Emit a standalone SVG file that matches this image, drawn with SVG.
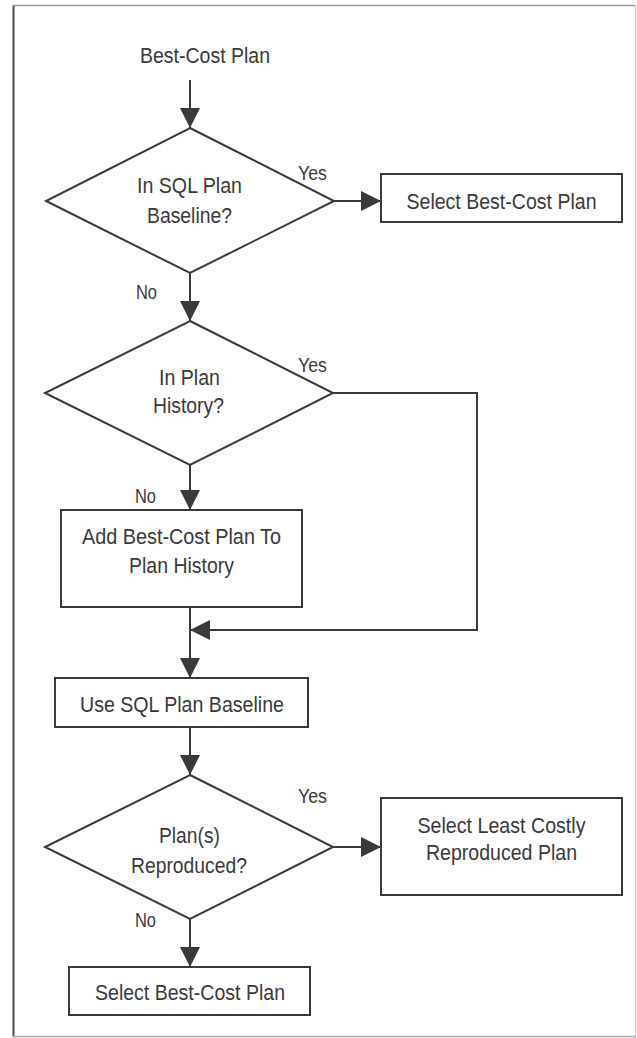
<svg xmlns="http://www.w3.org/2000/svg" width="637" height="1038" viewBox="0 0 637 1038">
  <style>
    .shape { fill: #ffffff; stroke: #3a3a3c; stroke-width: 2; }
    .wire { fill: none; stroke: #3a3a3c; stroke-width: 2; }
    .label { font-family: "Liberation Sans", Arial, sans-serif; font-size: 22.5px; fill: #3a3a3c; text-anchor: middle; }
    .tag { font-family: "Liberation Sans", Arial, sans-serif; font-size: 19.5px; fill: #3a3a3c; }
  </style>
  <defs>
    <marker id="arrow" viewBox="0 0 20 20" refX="20" refY="10" markerWidth="20" markerHeight="20" markerUnits="userSpaceOnUse" orient="auto">
      <path d="M0,0 L20,10 L0,20 Z" fill="#3a3a3c"/>
    </marker>
  </defs>

  <rect x="0" y="0" width="637" height="1038" fill="#ffffff"/>

  <!-- outer frame -->
  <g id="frame">
    <line x1="13.5" y1="5" x2="13.5" y2="1037" stroke="#4a4a4a" stroke-width="2"/>
    <line x1="13" y1="5.5" x2="636" y2="5.5" stroke="#9a9a9a" stroke-width="1.5"/>
    <line x1="635.5" y1="5" x2="635.5" y2="1037" stroke="#c8c8c8" stroke-width="1"/>
    <line x1="13" y1="1036.5" x2="636" y2="1036.5" stroke="#a8a8a8" stroke-width="1.5"/>
  </g>

  <!-- connectors -->
  <g id="connectors">
    <line class="wire" x1="190" y1="80" x2="190" y2="128" marker-end="url(#arrow)"/>
    <line class="wire" x1="334" y1="201" x2="381" y2="201" marker-end="url(#arrow)"/>
    <line class="wire" x1="190" y1="273" x2="190" y2="321" marker-end="url(#arrow)"/>
    <polyline class="wire" points="333,393 477,393 477,630 190,630" marker-end="url(#arrow)"/>
    <line class="wire" x1="190" y1="465" x2="190" y2="510" marker-end="url(#arrow)"/>
    <line class="wire" x1="190" y1="607" x2="190" y2="678" marker-end="url(#arrow)"/>
    <line class="wire" x1="190" y1="727" x2="190" y2="775" marker-end="url(#arrow)"/>
    <line class="wire" x1="333" y1="847" x2="381" y2="847" marker-end="url(#arrow)"/>
    <line class="wire" x1="190" y1="919" x2="190" y2="967" marker-end="url(#arrow)"/>
    <text class="tag" x="298" y="180" textLength="29" lengthAdjust="spacingAndGlyphs">Yes</text>
    <text class="tag" x="136" y="299" textLength="21" lengthAdjust="spacingAndGlyphs">No</text>
    <text class="tag" x="298" y="372" textLength="29" lengthAdjust="spacingAndGlyphs">Yes</text>
    <text class="tag" x="135" y="503" textLength="21" lengthAdjust="spacingAndGlyphs">No</text>
    <text class="tag" x="298" y="803" textLength="29" lengthAdjust="spacingAndGlyphs">Yes</text>
    <text class="tag" x="135" y="927" textLength="21" lengthAdjust="spacingAndGlyphs">No</text>
  </g>

  <!-- start label -->
  <g id="start">
    <text class="label" x="205" y="63" textLength="130" lengthAdjust="spacingAndGlyphs">Best-Cost Plan</text>
  </g>

  <!-- decision: in SQL plan baseline -->
  <g id="in-baseline">
    <polygon class="shape" points="190,128 334,201 190,273 46,201"/>
    <text class="label" x="189.5" y="193" textLength="105" lengthAdjust="spacingAndGlyphs">In SQL Plan</text>
    <text class="label" x="189.5" y="223" textLength="85" lengthAdjust="spacingAndGlyphs">Baseline?</text>
  </g>

  <g id="select-best-top">
    <rect class="shape" x="381" y="174" width="241" height="48"/>
    <text class="label" x="501.5" y="209" textLength="190" lengthAdjust="spacingAndGlyphs">Select Best-Cost Plan</text>
  </g>

  <!-- decision: in plan history -->
  <g id="in-history">
    <polygon class="shape" points="190,321 333,393 190,465 45,393"/>
    <text class="label" x="189.5" y="385" textLength="61" lengthAdjust="spacingAndGlyphs">In Plan</text>
    <text class="label" x="188.5" y="413" textLength="71" lengthAdjust="spacingAndGlyphs">History?</text>
  </g>

  <g id="add-to-history">
    <rect class="shape" x="61" y="510" width="241" height="97"/>
    <text class="label" x="181.5" y="544" textLength="199" lengthAdjust="spacingAndGlyphs">Add Best-Cost Plan To</text>
    <text class="label" x="181.5" y="573" textLength="105" lengthAdjust="spacingAndGlyphs">Plan History</text>
  </g>

  <g id="use-baseline">
    <rect class="shape" x="55" y="678" width="253" height="49"/>
    <text class="label" x="182" y="712" textLength="204" lengthAdjust="spacingAndGlyphs">Use SQL Plan Baseline</text>
  </g>

  <!-- decision: plans reproduced -->
  <g id="reproduced">
    <polygon class="shape" points="190,775 333,847 190,919 45,847"/>
    <text class="label" x="189.5" y="843" textLength="61" lengthAdjust="spacingAndGlyphs">Plan(s)</text>
    <text class="label" x="189" y="873" textLength="116" lengthAdjust="spacingAndGlyphs">Reproduced?</text>
  </g>

  <g id="select-least-costly">
    <rect class="shape" x="381" y="798" width="241" height="97"/>
    <text class="label" x="501.5" y="833" textLength="168" lengthAdjust="spacingAndGlyphs">Select Least Costly</text>
    <text class="label" x="501.5" y="860" textLength="151" lengthAdjust="spacingAndGlyphs">Reproduced Plan</text>
  </g>

  <g id="select-best-bottom">
    <rect class="shape" x="69" y="967" width="241" height="48"/>
    <text class="label" x="190" y="1000" textLength="190" lengthAdjust="spacingAndGlyphs">Select Best-Cost Plan</text>
  </g>
</svg>
